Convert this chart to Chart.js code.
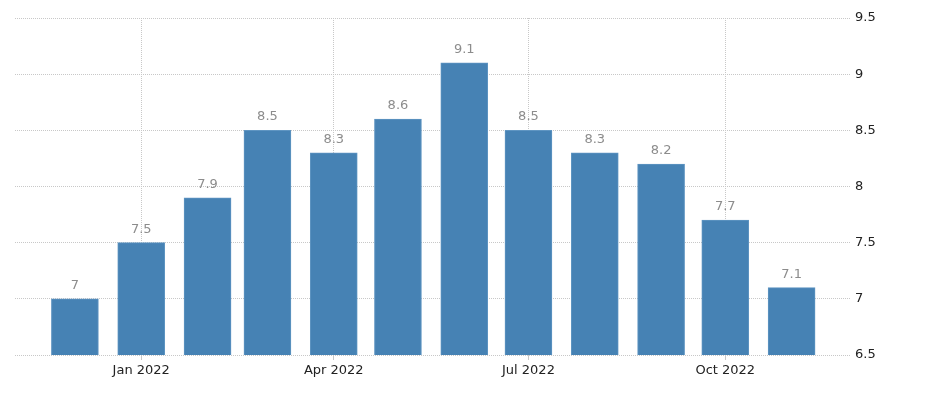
<!DOCTYPE html>
<html>
<head>
<meta charset="utf-8">
<script src="https://cdn.jsdelivr.net/npm/chart.js@4"></script>
<style>
  html, body { margin: 0; padding: 0; background: #fff; }
  #c { display: block; }
</style>
</head>
<body>
<canvas id="c" width="940" height="396"></canvas>
<script>
// ---- data ----
const months = ["2021-12-01","2022-01-01","2022-02-01","2022-03-01","2022-04-01","2022-05-01",
                "2022-06-01","2022-07-01","2022-08-01","2022-09-01","2022-10-01","2022-11-01"];
const values = [7, 7.5, 7.9, 8.5, 8.3, 8.6, 9.1, 8.5, 8.3, 8.2, 7.7, 7.1];
const xTickDates = ["2022-01-01","2022-04-01","2022-07-01","2022-10-01"];
const xTickLabels = ["Jan 2022","Apr 2022","Jul 2022","Oct 2022"];
const yTicks = [6.5, 7, 7.5, 8, 8.5, 9, 9.5];

const dayNum = s => Date.parse(s + "T00:00:00Z") / 86400000;
const points = months.map((m, i) => ({ x: dayNum(m), y: values[i] }));
const xTickDays = xTickDates.map(dayNum);

const FONT = "'DejaVu Sans', sans-serif";

const valueLabels = {
  id: 'valueLabels',
  afterDatasetsDraw(chart) {
    const ctx = chart.ctx;
    const meta = chart.getDatasetMeta(0);
    ctx.save();
    ctx.font = "13px " + FONT;
    ctx.fillStyle = "#8c8c8c";
    ctx.textAlign = "center";
    ctx.textBaseline = "alphabetic";
    meta.data.forEach((bar, i) => {
      ctx.fillText(String(values[i]), bar.x, bar.y - 10);
    });
    ctx.restore();
  }
};

new Chart(document.getElementById('c'), {
  type: 'bar',
  data: {
    datasets: [{
      data: points,
      backgroundColor: '#4682b4',
      borderColor: '#5f95c2',
      borderWidth: 1,
      barThickness: 47
    }]
  },
  options: {
    responsive: false,
    animation: false,
    layout: { padding: { left: 15, top: 18, right: 0, bottom: 0 } },
    plugins: { legend: { display: false }, tooltip: { enabled: false } },
    scales: {
      x: {
        type: 'linear',
        offset: false,
        min: points[0].x - 28,
        max: points[points.length - 1].x + 27.3,
        afterBuildTicks(scale) {
          scale.ticks = xTickDays.map(v => ({ value: v }));
        },
        afterFit(scale) { scale.height = 41; },
        ticks: {
          autoSkip: false,
          maxRotation: 0,
          padding: 3,
          color: '#222222',
          font: { family: FONT, size: 13 },
          callback(v) {
            const i = xTickDays.indexOf(v);
            return i >= 0 ? xTickLabels[i] : '';
          }
        },
        grid: {
          offset: false,
          color: '#c8c8c8',
          tickColor: '#c8c8c8',
          tickLength: 5,
          drawTicks: true
        },
        border: { display: false, dash: [1, 1] }
      },
      y: {
        position: 'right',
        min: yTicks[0],
        max: yTicks[yTicks.length - 1],
        afterBuildTicks(scale) {
          scale.ticks = yTicks.map(v => ({ value: v }));
        },
        afterFit(scale) { scale.width = 90; },
        ticks: {
          padding: 5,
          color: '#222222',
          font: { family: FONT, size: 13 },
          callback(v) { return String(v); }
        },
        grid: {
          color: '#c8c8c8',
          drawTicks: false
        },
        border: { display: false, dash: [1, 1] }
      }
    }
  },
  plugins: [valueLabels]
});
</script>
</body>
</html>
